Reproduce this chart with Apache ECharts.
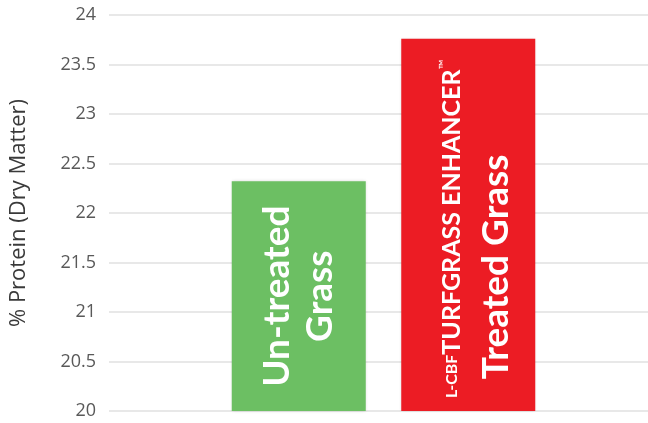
<!DOCTYPE html>
<html>
<head>
<meta charset="utf-8">
<script src="https://cdn.jsdelivr.net/npm/echarts@6/dist/echarts.min.js"></script>
<style>
html,body{margin:0;padding:0;background:#fff;}
#c{width:648px;height:423px;}
</style>
</head>
<body>
<div id="c"></div>
<script>
// ---- data ----
const categories = ['Un-treated Grass', 'Treated Grass'];
const proteinValues = [22.32, 23.76];
const barColors = ['#6cbf63', '#ec1c24'];
const yTicks = ['20', '20.5', '21', '21.5', '22', '22.5', '23', '23.5', '24'];
const yAxisName = '% Protein (Dry Matter)';
const barLabels = [
  '{b|Un-treated}\n{b|Grass}',
  '{s|L-CBF}{t|TURFGRASS ENHANCER}{tm|™}\n{b2|Treated Grass}{sp|}'
];

const chart = echarts.init(document.getElementById('c'), null, {renderer: 'canvas'});

const option = {
  animation: false,
  backgroundColor: '#ffffff',
  grid: [
    {left: 105, right: 0, top: 15, bottom: 12},
    {left: 214, right: 95, top: 15, bottom: 12}
  ],
  xAxis: [
    {gridIndex: 0, type: 'value', show: false, min: 0, max: 1},
    {gridIndex: 1, type: 'category', data: categories, show: false}
  ],
  yAxis: [
    {
      gridIndex: 0, type: 'value', min: 20, max: 24, interval: 0.5,
      axisLine: {show: false}, axisTick: {show: false},
      axisLabel: {
        margin: 13, color: '#595959', fontSize: 18, fontFamily: 'Open Sans',
        formatter: function (v) { const i = Math.round((v - 20) / 0.5); return yTicks[i]; }
      },
      splitLine: {lineStyle: {color: '#e8e8e8', width: 2}},
      name: yAxisName, nameLocation: 'middle', nameGap: 79, nameRotate: 90,
      nameTextStyle: {color: '#3a3a3a', fontSize: 22, fontFamily: 'Open Sans'}
    },
    {gridIndex: 1, type: 'value', min: 20, max: 24, show: false}
  ],
  series: [{
    type: 'bar',
    xAxisIndex: 1, yAxisIndex: 1,
    barWidth: 134,
    data: proteinValues.map(function (v, i) {
      return {
        value: v,
        itemStyle: {color: barColors[i], shadowColor: 'rgba(0,0,0,0.15)', shadowBlur: 3},
        label: {
          show: true, position: 'inside', rotate: 90,
          formatter: barLabels[i],
          color: '#fff',
          offset: i === 0 ? [0, 0] : [-4, 13],
          rich: {
            b: {fontFamily: 'Lato', fontWeight: 'bold', fontSize: 37, lineHeight: 43, color: '#fff'},
            b2: {fontFamily: 'Lato', fontWeight: 'bold', fontSize: 37, lineHeight: 58, color: '#fff'},
            s: {fontFamily: 'Lato', fontWeight: 'bold', fontSize: 16, color: '#fff'},
            t: {fontFamily: 'Lato', fontWeight: 'bold', fontSize: 25, lineHeight: 30, color: '#fff'},
            tm: {fontFamily: 'Lato', fontSize: 13, color: '#fff', verticalAlign: 'top'},
            sp: {width: 76}
          }
        }
      };
    })
  }]
};
chart.setOption(option);
</script>
</body>
</html>
